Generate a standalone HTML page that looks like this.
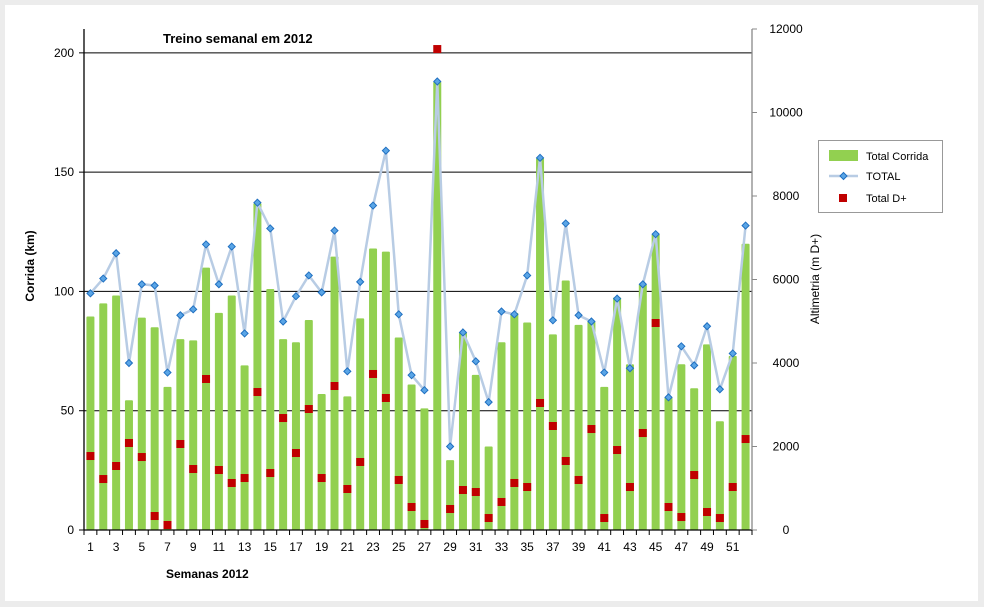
<!DOCTYPE html>
<html><head><meta charset="utf-8"><style>
body{margin:0;background:#ececec;font-family:"Liberation Sans",Arial,sans-serif}
#wrap{position:absolute;left:5px;top:5px;width:973px;height:596px;background:#fff}
</style></head><body>
<div id="wrap"></div>
<svg id="chart" width="984" height="607" style="position:absolute;left:0;top:0" font-family="Liberation Sans, Arial, sans-serif"></svg>
<script>
const weeks=[];for(let i=1;i<=52;i++)weeks.push(i);
const corrida=[89.5,95,98.3,54.4,89,85,60,80,79.5,110,91,98.3,69,137,101,80,78.7,88,57,114.6,56,88.7,118,116.7,80.7,61,51,188,29.3,83,65,35,78.7,91,87,156,82,104.6,86,87.4,60,97.5,69.5,103,124,55.6,69.5,59.4,77.8,45.6,73,120];
const total=[99.2,105.4,116,70,103,102.5,66,90,92.5,119.7,103,118.8,82.4,137.2,126.4,87.4,98,106.7,99.6,125.5,66.5,104,136,159,90.4,64.9,58.6,188,35,82.8,70.7,53.6,91.6,90.4,106.7,156,87.9,128.5,90,87.4,66,97,67.8,103,124,55.6,77,69,85.4,59,74,127.6];
const dplus=[1772,1221,1533,2084,1748,335,120,2060,1461,3617,1437,1126,1245,3305,1365,2682,1844,2898,1245,3449,982,1629,3737,3162,1198,551,144,11520,503,958,910,287,671,1126,1030,3042,2491,1653,1198,2419,287,1916,1030,2323,4958,551,311,1317,431,287,1030,2179];
const leftTicks=[0,50,100,150,200];
const rightTicks=[0,2000,4000,6000,8000,10000,12000];
const xLabels=[1,3,5,7,9,11,13,15,17,19,21,23,25,27,29,31,33,35,37,39,41,43,45,47,49,51];
const NS="http://www.w3.org/2000/svg";
const svg=document.getElementById('chart');
const X0=84,X1=752,Y0=530,YT=29;
const slot=(X1-X0)/52;
const xs=w=>X0+(w-0.5)*slot;
const yL=v=>Y0-v*(Y0-YT)/210;
const yR=v=>Y0-v*(Y0-YT)/12000;
function el(t,a,p){const e=document.createElementNS(NS,t);for(const k in a)e.setAttribute(k,a[k]);(p||svg).appendChild(e);return e;}
function txt(s,a){const e=el('text',a);e.textContent=s;return e;}
// gridlines
leftTicks.slice(1).forEach(v=>{const g=el('line',{x1:X0,x2:X1,y1:yL(v),y2:yL(v),stroke:'#000','stroke-width':1});

});
// bars
weeks.forEach((w,i)=>{const r=el('rect',{x:xs(w)-4,y:yL(corrida[i]),width:8,height:Y0-yL(corrida[i]),fill:'#92d050',rx:1});

});
// line
const ln=el('polyline',{points:weeks.map((w,i)=>xs(w)+','+yL(total[i])).join(' '),fill:'none',stroke:'#b8cce4','stroke-width':2.5});


weeks.forEach((w,i)=>{const x=xs(w),y=yL(total[i]);const d=el('polygon',{points:`${x},${y-3.5} ${x+3.5},${y} ${x},${y+3.5} ${x-3.5},${y}`,fill:'#5aa5e6',stroke:'#1f6fc0','stroke-width':1});

});
// D+
weeks.forEach((w,i)=>{const y=yR(dplus[i]);const s=el('rect',{x:xs(w)-4,y:y-4,width:8,height:8,fill:'#c00000'});

});
// axes
const la=el('line',{x1:X0,x2:X0,y1:YT,y2:Y0,stroke:'#000','stroke-width':1.3});


const xa=el('line',{x1:X0,x2:X1,y1:Y0,y2:Y0,stroke:'#000','stroke-width':1.3});


const ra=el('line',{x1:X1,x2:X1,y1:YT,y2:Y0,stroke:'#888','stroke-width':1.3});


leftTicks.forEach(v=>{el('line',{x1:X0-5,x2:X0,y1:yL(v),y2:yL(v),stroke:'#000'});
const t=txt(v,{x:X0-10,y:yL(v)+4,'text-anchor':'end','font-size':12});

});
rightTicks.forEach(v=>{el('line',{x1:X1,x2:X1+5,y1:yR(v),y2:yR(v),stroke:'#888'});
const t=txt(v,{x:X1+34,y:yR(v)+4,'text-anchor':'middle','font-size':12});

});
for(let w=0;w<=52;w++)el('line',{x1:X0+w*slot,x2:X0+w*slot,y1:Y0,y2:Y0+5,stroke:'#000'});
xLabels.forEach(w=>{const t=txt(w,{x:xs(w),y:551,'text-anchor':'middle','font-size':12});

});
// titles
let t=txt('Treino semanal em 2012',{x:163,y:43,'font-size':13,'font-weight':'bold'});

t=txt('Semanas 2012',{x:166,y:578,'font-size':12,'font-weight':'bold'});

t=txt('Corrida (km)',{x:0,y:0,'font-size':12,'font-weight':'bold','text-anchor':'middle',transform:'translate(34,266) rotate(-90)'});

t=txt('Altimetria (m D+)',{x:0,y:0,'font-size':12,'text-anchor':'middle',transform:'translate(819,279) rotate(-90)'});

// legend
const lg=el('g',{});

el('rect',{x:818.5,y:140.5,width:124,height:72,fill:'#fff',stroke:'#999'},lg);
el('rect',{x:829,y:150,width:29,height:11,fill:'#92d050'},lg);
let l=el('text',{x:866,y:160,'font-size':11},lg);l.textContent='Total Corrida';

el('line',{x1:829,x2:858,y1:176,y2:176,stroke:'#b8cce4','stroke-width':2.5},lg);
el('polygon',{points:'843.5,172.5 847,176 843.5,179.5 840,176',fill:'#5aa5e6',stroke:'#1f6fc0'},lg);
l=el('text',{x:866,y:180,'font-size':11},lg);l.textContent='TOTAL';

el('rect',{x:839,y:194,width:8,height:8,fill:'#c00000'},lg);
l=el('text',{x:866,y:202,'font-size':11},lg);l.textContent='Total D+';

</script>
</body></html>
